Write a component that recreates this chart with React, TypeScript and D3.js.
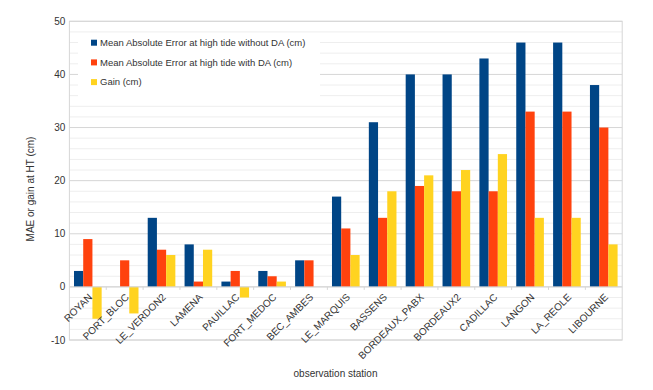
import React from 'react';
import * as d3 from 'd3';

const stations = [
  'ROYAN', 'PORT_BLOC', 'LE_VERDON2', 'LAMENA', 'PAUILLAC', 'FORT_MEDOC', 'BEC_AMBES',
  'LE_MARQUIS', 'BASSENS', 'BORDEAUX_PABX', 'BORDEAUX2', 'CADILLAC', 'LANGON', 'LA_REOLE', 'LIBOURNE',
];
const maeWithoutDA = [3, 0, 13, 8, 1, 3, 5, 17, 31, 40, 40, 43, 46, 46, 38];
const maeWithDA = [9, 5, 7, 1, 3, 2, 5, 11, 13, 19, 18, 18, 33, 33, 30];
const gain = [-6, -5, 6, 7, -2, 1, 0, 6, 18, 21, 22, 25, 13, 13, 8];
const seriesNames = [
  'Mean Absolute Error at high tide without DA (cm)',
  'Mean Absolute Error at high tide with DA (cm)',
  'Gain (cm)',
];
const seriesColors = ['#004586', '#ff420e', '#ffd320'];
const yTicks = [-10, 0, 10, 20, 30, 40, 50];

const App = () => {
  const width = 653;
  const height = 390;
  const left = 69.4;
  const right = 622.2;
  const top = 21.3;
  const bottom = 340;
  const font = 'Liberation Sans, Arial, sans-serif';

  const x = d3.scaleBand<string>().domain(stations).range([left, right]).paddingInner(0).paddingOuter(0);
  const y = d3.scaleLinear().domain([-10, 50]).range([bottom, top]);
  const series = [maeWithoutDA, maeWithDA, gain];
  const inner = d3
    .scaleBand<number>()
    .domain([0, 1, 2])
    .range([0, x.bandwidth()])
    .paddingOuter(0.5)
    .paddingInner(0);

  const minorTicks = d3.range(-10, 51, 2).filter((v) => v % 10 !== 0);

  return (
    <svg width={width} height={height} style={{ position: 'absolute', left: 0, top: 0, background: '#fff' }}>
      {minorTicks.map((v) => (
        <line key={'m' + v} x1={left} x2={right} y1={y(v)} y2={y(v)} stroke="#eeeeee" strokeWidth={1} />
      ))}
      {yTicks.map((v) => (
        <line key={'g' + v} x1={left} x2={right} y1={y(v)} y2={y(v)} stroke="#d6d6d6" strokeWidth={1} />
      ))}
      <rect x={left} y={top} width={right - left} height={bottom - top} fill="none" stroke="#d6d6d6" />
      {/* legend background */}
      <rect x={78} y={33} width={242} height={67} fill="#fff" />
      {stations.map((s, i) => (
        <g key={s}>
          {series.map((vals, k) => {
            const v = vals[i];
            return (
              <rect
                key={k}
                x={(x(s) ?? 0) + (inner(k) ?? 0)}
                y={Math.min(y(v), y(0))}
                width={inner.bandwidth()}
                height={Math.abs(y(v) - y(0))}
                fill={seriesColors[k]}
              />
            );
          })}
        </g>
      ))}
      <line x1={left} x2={right} y1={y(0)} y2={y(0)} stroke="#d6d6d6" />
      {stations.map((s, i) =>
        i > 0 ? (
          <line key={'t' + s} x1={x(s)} x2={x(s)} y1={y(0)} y2={y(0) + 3} stroke="#d6d6d6" />
        ) : null
      )}
      {yTicks.map((v) => (
        <text key={'yl' + v} x={left - 4} y={y(v)} dy="0.35em" textAnchor="end" fontSize={10} fontFamily={font} fill="#333">
          {v}
        </text>
      ))}
      {stations.map((s) => {
        const cx = (x(s) ?? 0) + x.bandwidth() / 2;
        const cy = y(0) + 6;
        return (
          <text
            key={'xl' + s}
            transform={`translate(${cx},${cy}) rotate(-45)`}
            textAnchor="end"
            dy="0.7em"
            fontSize={10}
            fontFamily={font}
            fill="#333"
          >
            {s}
          </text>
        );
      })}
      {seriesNames.map((n, k) => (
        <g key={n} transform={`translate(91,${42.7 + k * 19.7})`}>
          <rect x={0} y={-3} width={6} height={6} fill={seriesColors[k]} />
          <text x={9} dy="0.35em" fontSize={9.5} fontFamily={font} fill="#333">
            {n}
          </text>
        </g>
      ))}
      <text
        transform={`translate(34,189) rotate(-90)`}
        textAnchor="middle"
        fontSize={10}
        fontFamily={font}
        fill="#333"
      >
        MAE or gain at HT (cm)
      </text>
      <text x={335.5} y={376.5} textAnchor="middle" fontSize={10} fontFamily={font} fill="#333">
        observation station
      </text>
    </svg>
  );
};

export default App;
